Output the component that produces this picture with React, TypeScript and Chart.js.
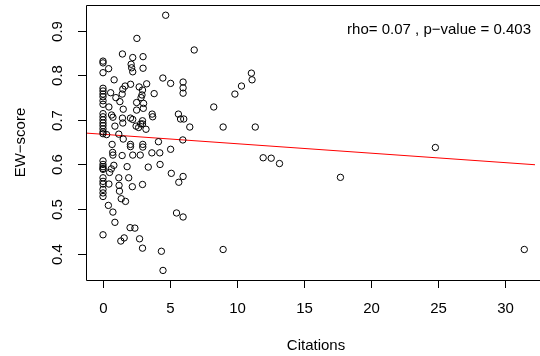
import React, { useEffect, useRef } from "react";
import { Chart, registerables } from "chart.js";

Chart.register(...registerables);

// Citations (x) and EW-score (y)
const citations: number[] = [
  0, 0, 0, 0, 0, 0, 0, 0, 0, 0, 0, 0, 0, 0, 0, 0, 0, 0, 0, 0, 0, 0, 0, 0, 0, 0, 0, 0, 0,
  4.68, 2.53, 1.45, 2.22, 2.99, 0.42, 2.1, 2.14, 2.22, 2.99, 6.81, 0.83, 4.47, 5.05, 5.98, 5.98, 5.98,
  2.06, 1.48, 1.65, 0.57, 3.26, 2.7, 2.95, 3.82, 0.96, 1.43, 2.84, 1.26, 2.51, 3.03, 2.91,
  0.44, 1.51, 2.51, 3.01, 3.67, 3.71, 0.64, 0.74, 1.45, 2.05, 2.22, 2.95, 2.95, 2.81, 2.47, 2.66,
  3.21, 0.89, 1.48, 0.27, 1.18, 1.51, 0.68, 2.05, 2.05, 2.97, 2.97, 4.14, 5.05, 5.63, 5.79, 6.03,
  6.48, 5.96, 0.72, 0.74, 1.43, 2.22, 2.78, 3.65, 4.24, 0.62, 0.49, 0.81, 1.8, 3.38, 4.26, 5.1,
  1.18, 1.92, 2.95, 5.66, 5.98, 0.44, 1.2, 2.19, 1.23, 1.36, 1.68, 0.4, 0.74, 0.89, 2.02, 2.38,
  1.33, 1.58, 2.73, 2.95, 4.36, 4.48, 5.49, 5.98,
  11.08, 11.13, 10.34, 9.85, 8.27, 8.97, 11.37, 11.96, 12.56, 13.18, 8.97, 24.82, 17.73, 31.46,
];

const ewScores: number[] = [
  0.832, 0.828, 0.806, 0.771, 0.765, 0.758, 0.752, 0.743, 0.735, 0.714, 0.707, 0.7, 0.693, 0.687,
  0.68, 0.673, 0.669, 0.608, 0.6, 0.595, 0.591, 0.589, 0.57, 0.562, 0.556, 0.544, 0.536, 0.528, 0.442,
  0.935, 0.883, 0.848, 0.84, 0.842, 0.815, 0.825, 0.817, 0.808, 0.816, 0.857, 0.79, 0.794, 0.782, 0.785, 0.772, 0.76,
  0.78, 0.769, 0.776, 0.761, 0.781, 0.774, 0.767, 0.759, 0.75, 0.758, 0.75, 0.741, 0.739, 0.737, 0.756,
  0.729, 0.724, 0.722, 0.726, 0.713, 0.707, 0.711, 0.706, 0.704, 0.704, 0.701, 0.698, 0.691, 0.691, 0.686, 0.683,
  0.679, 0.686, 0.693, 0.667, 0.668, 0.657, 0.645, 0.645, 0.64, 0.645, 0.639, 0.651, 0.634, 0.713, 0.702, 0.702,
  0.684, 0.655, 0.627, 0.621, 0.62, 0.621, 0.621, 0.626, 0.626, 0.59, 0.582, 0.598, 0.595, 0.594, 0.6, 0.58,
  0.57, 0.57, 0.555, 0.56, 0.573, 0.556, 0.553, 0.55, 0.54, 0.523, 0.517, 0.508, 0.493, 0.47, 0.458, 0.457,
  0.428, 0.435, 0.433, 0.412, 0.405, 0.362, 0.491, 0.482,
  0.805, 0.79, 0.776, 0.758, 0.729, 0.684, 0.684, 0.615, 0.614, 0.602, 0.409, 0.638, 0.571, 0.409,
];

// Fitted line end points
const fitX: number[] = [-1.27, 32.26];
const fitY: number[] = [0.6704, 0.5993];

const xTicks: number[] = [0, 5, 10, 15, 20, 25, 30];
const yTicks: number[] = [0.4, 0.5, 0.6, 0.7, 0.8, 0.9];
const xTitle = "Citations";
const yTitle = "EW\u2212score";
const annotationText = "rho= 0.07 , p\u2212value = 0.403";

const FONT = '15px "Liberation Sans", Arial, Helvetica, sans-serif';

const rAxesPlugin = {
  id: "rAxes",
  afterDraw(chart: any) {
    const { ctx, chartArea } = chart;
    const xs = chart.scales.x;
    const ys = chart.scales.y;
    const { left, top, right, bottom } = chartArea;
    ctx.save();
    ctx.strokeStyle = "#000";
    ctx.lineWidth = 1;
    // box
    ctx.beginPath();
    ctx.moveTo(right + 5, top + 0.5);
    ctx.lineTo(left + 0.5, top + 0.5);
    ctx.lineTo(left + 0.5, bottom + 0.5);
    ctx.lineTo(right + 5, bottom + 0.5);
    ctx.stroke();

    ctx.fillStyle = "#000";
    ctx.font = FONT;
    // x ticks
    ctx.textAlign = "center";
    ctx.textBaseline = "middle";
    xTicks.forEach((t) => {
      const px = Math.round(xs.getPixelForValue(t)) + 0.5;
      ctx.beginPath();
      ctx.moveTo(px, bottom + 0.5);
      ctx.lineTo(px, bottom + 8);
      ctx.stroke();
      ctx.fillText(String(t), px, bottom + 29);
    });
    // y ticks
    yTicks.forEach((t) => {
      const py = Math.round(ys.getPixelForValue(t)) + 0.5;
      ctx.beginPath();
      ctx.moveTo(left + 0.5, py);
      ctx.lineTo(left - 8, py);
      ctx.stroke();
      ctx.save();
      ctx.translate(left - 28, py);
      ctx.rotate(-Math.PI / 2);
      ctx.fillText(t.toFixed(1), 0, 0);
      ctx.restore();
    });
    // titles
    ctx.fillText(xTitle, left + 230, bottom + 66);
    ctx.save();
    ctx.translate(21, (top + bottom) / 2);
    ctx.rotate(-Math.PI / 2);
    ctx.fillText(yTitle, 0, 0);
    ctx.restore();
    // annotation
    ctx.textAlign = "right";
    ctx.fillText(annotationText, right - 4, top + 25);
    ctx.restore();
  },
};

export default function App() {
  const canvasRef = useRef<HTMLCanvasElement | null>(null);

  useEffect(() => {
    const canvas = canvasRef.current;
    if (!canvas) return;
    const points = citations.map((c, i) => ({ x: c, y: ewScores[i] }));
    const line = fitX.map((x, i) => ({ x, y: fitY[i] }));
    const chart = new Chart(canvas, {
      type: "scatter",
      data: {
        datasets: [
          {
            data: points,
            pointStyle: "circle",
            pointRadius: 3.2,
            pointBorderWidth: 1,
            pointBorderColor: "#000",
            pointBackgroundColor: "rgba(0,0,0,0)",
            showLine: false,
          },
          {
            type: "line",
            data: line,
            borderColor: "#ff0000",
            borderWidth: 1,
            pointRadius: 0,
            fill: false,
          } as any,
        ],
      },
      options: {
        animation: false,
        responsive: false,
        devicePixelRatio: 1,
        layout: { padding: { left: 86, top: 4, right: 0, bottom: 76 } },
        plugins: {
          legend: { display: false },
          tooltip: { enabled: false },
        },
        scales: {
          x: { type: "linear", min: -1.27, max: 32.26, display: false },
          y: { type: "linear", min: 0.3405, max: 0.958, display: false },
        },
      },
      plugins: [rAxesPlugin],
    });
    return () => chart.destroy();
  }, []);

  return (
    <div style={{ position: "fixed", left: 0, top: 0, width: 540, height: 356, overflow: "hidden", background: "#fff" }}>
      <canvas ref={canvasRef} width={540} height={356} style={{ display: "block", width: 540, height: 356 }} />
    </div>
  );
}
